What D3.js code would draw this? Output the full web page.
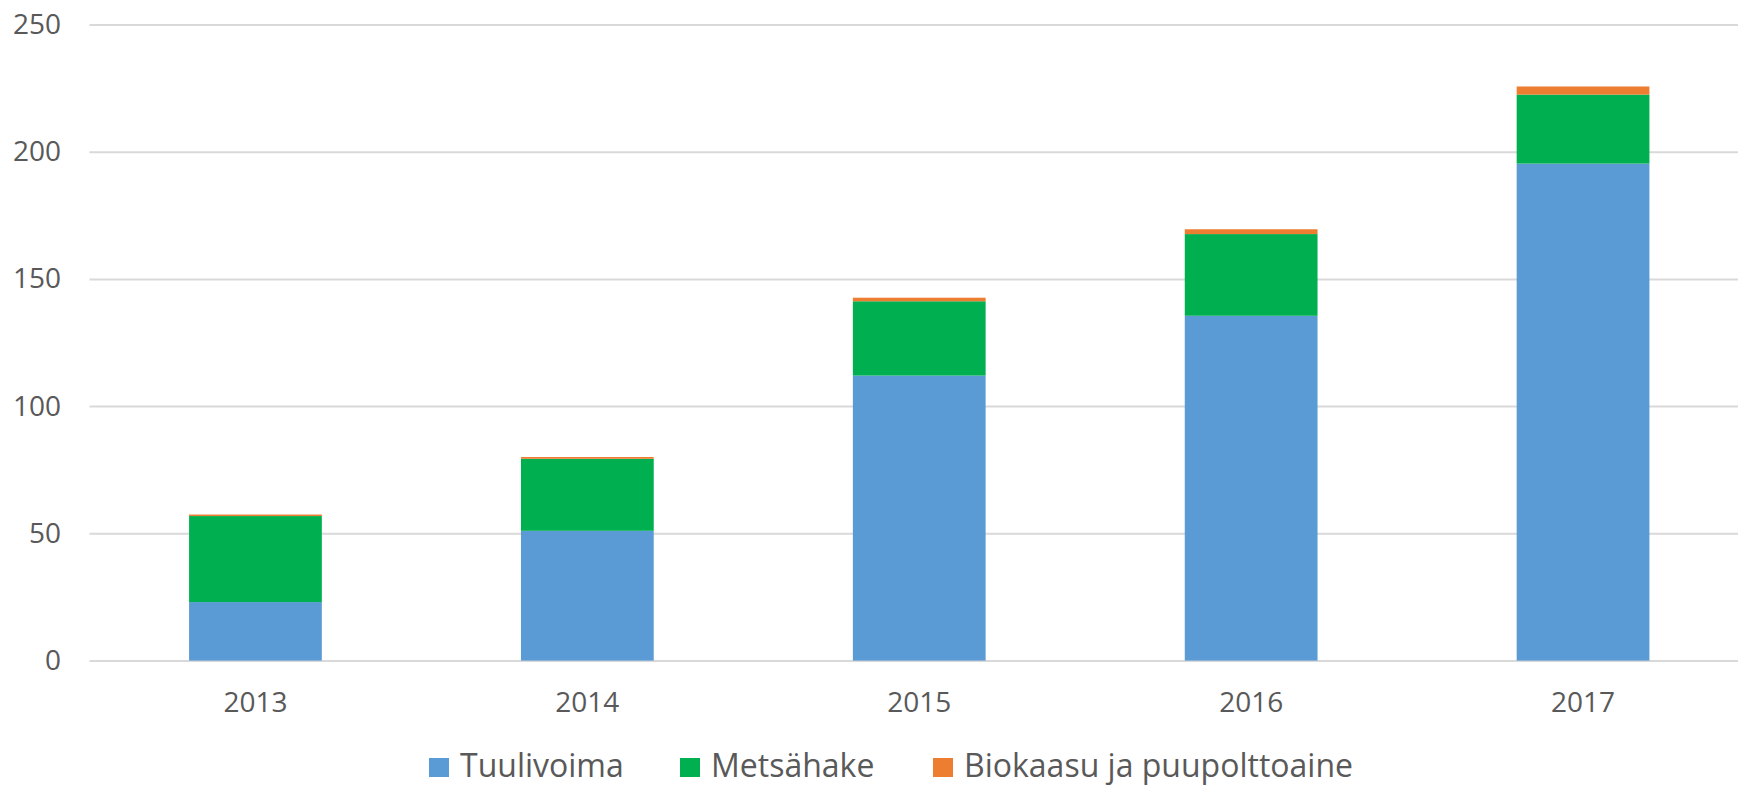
<!DOCTYPE html>
<html>
<head>
<meta charset="utf-8">
<script src="https://cdn.jsdelivr.net/npm/d3@7"></script>
<style>
  html, body { margin: 0; padding: 0; background: #ffffff; }
  svg { display: block; }
  text { font-family: "Open Sans", "Segoe UI", sans-serif; fill: #595959; }
</style>
</head>
<body>
<svg id="chart" width="1738" height="786"></svg>
<script>
const years = ["2013", "2014", "2015", "2016", "2017"];
const seriesNames = ["Tuulivoima", "Metsähake", "Biokaasu ja puupolttoaine"];
const tuulivoima = [23.0, 51.0, 112.0, 135.5, 195.3];
const metsahake = [33.8, 28.3, 29.2, 32.1, 27.1];
const biokaasu = [0.6, 0.7, 1.4, 1.9, 3.2];
const yTicks = [0, 50, 100, 150, 200, 250];
const colors = ["#5B9BD5", "#00B050", "#ED7D31"];

const svg = d3.select("#chart");
const plot = { left: 89.5, right: 1749, top: 24.4, bottom: 660.6 };

const x = d3.scaleBand().domain(years).range([plot.left, plot.right])
  .paddingInner(0.6).paddingOuter(0.3);
const y = d3.scaleLinear().domain([0, 250]).range([plot.bottom, plot.top]);

// gridlines
const grid = svg.append("g").attr("transform", `translate(${plot.left},0)`)
  .call(d3.axisLeft(y).tickValues(yTicks).tickSize(-(plot.right - plot.left)).tickFormat(""));
grid.select(".domain").remove();
grid.selectAll("line").attr("stroke", "#d9d9d9").attr("stroke-width", 2);

// y labels
const yAx = svg.append("g").attr("transform", `translate(61,0)`)
  .call(d3.axisLeft(y).tickValues(yTicks).tickSize(0).tickPadding(0));
yAx.select(".domain").remove();
yAx.selectAll("text").attr("font-size", 28).style("fill", "#595959")
  .style("font-family", '"Open Sans", sans-serif');

// stacked data
const rows = years.map((yr, i) => ({ year: yr, a: tuulivoima[i], b: metsahake[i], c: biokaasu[i] }));
const stack = d3.stack().keys(["a", "b", "c"])(rows);

svg.append("g").selectAll("g").data(stack).join("g")
  .attr("fill", (d, i) => colors[i])
  .selectAll("rect").data(d => d).join("rect")
  .attr("x", d => x(d.data.year))
  .attr("width", x.bandwidth())
  .attr("y", d => y(d[1]))
  .attr("height", d => y(d[0]) - y(d[1]));

// x labels
const xAx = svg.append("g").attr("transform", `translate(0,${plot.bottom})`)
  .call(d3.axisBottom(x).tickSize(0).tickPadding(32));
xAx.select(".domain").remove();
xAx.selectAll("text").attr("font-size", 28).style("fill", "#595959")
  .style("font-family", '"Open Sans", sans-serif');

// legend
const legend = svg.append("g");
const positions = [429, 680, 933];
seriesNames.forEach((name, i) => {
  const g = legend.append("g").attr("transform", `translate(${positions[i]},0)`);
  g.append("rect").attr("x", 0).attr("y", 758).attr("width", 20).attr("height", 19).attr("fill", colors[i]);
  g.append("text").attr("x", 31).attr("y", 777)
    .attr("font-size", 32).text(name);
});
</script>
</body>
</html>
